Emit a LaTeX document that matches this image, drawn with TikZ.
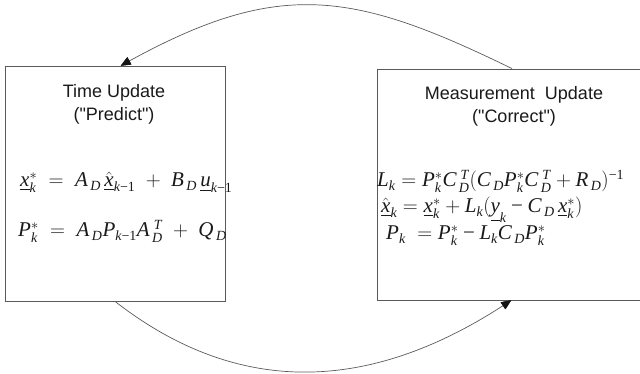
\documentclass[tikz,border=0pt]{standalone}
\usepackage{amsmath}
\usepackage{fontspec}
\setmainfont{Liberation Serif}
\newfontfamily\arialfont{Liberation Sans}
\newfontfamily\tnr{Liberation Serif}
\newcommand{\vi}[1]{\mathchoice{\hbox{\tnr\itshape\fontsize{21}{23}\selectfont #1}}{\hbox{\tnr\itshape\fontsize{21}{23}\selectfont #1}}{\hbox{\tnr\itshape\fontsize{14}{15}\selectfont #1}}{\hbox{\tnr\itshape\fontsize{11}{12}\selectfont #1}}}
\newcommand{\vr}[1]{\mathchoice{\hbox{\tnr\fontsize{21}{23}\selectfont #1}}{\hbox{\tnr\fontsize{21}{23}\selectfont #1}}{\hbox{\tnr\fontsize{14}{15}\selectfont #1}}{\hbox{\tnr\fontsize{11}{12}\selectfont #1}}}
\newcommand{\mn}{\mathbin{\vr{−}}}
\newcommand{\km}{\vi{k}\vr{−1}}
\newcommand{\sD}{\,\vi{D}}
\usetikzlibrary{calc}
\definecolor{linegray}{HTML}{5A5A5A}
\definecolor{inkcol}{HTML}{1A1A1A}
\definecolor{tipcol}{HTML}{141414}
\tikzset{
  boxnode/.style={draw=linegray, line width=0.8pt, inner sep=0pt, fill=white},
  titletext/.style={font=\arialfont\fontsize{18}{21}\selectfont, text=inkcol, inner sep=0pt, anchor=base},
  eqtext/.style={font=\fontsize{21}{24}\selectfont, text=inkcol, inner sep=0pt, anchor=base west},
  flowline/.style={draw=linegray, line width=0.7pt},
  tipfill/.style={fill=tipcol, draw=tipcol, line width=0.4pt, line join=round},
  tipcore/.style={draw=tipcol, line width=2.66pt, line join=miter, miter limit=10, line cap=round}
}
\begin{document}
\begin{tikzpicture}[x=1pt,y=1pt]
\useasboundingbox (0,0) rectangle (640,374);
\node[boxnode, minimum width=220pt, minimum height=235pt] (tu) at (115,190.5) {};
\node[boxnode, minimum width=266pt, minimum height=231pt] (mu) at (510,189.5) {};
\node[titletext] (t1) at (114,276) {Time Update};
\node[titletext] (t2) at (114,253) {("Predict")};
\node[titletext] (t3) at (514,274) {Measurement\ \ Update};
\node[titletext] (t4) at (514,251) {("Correct")};
\node[eqtext] (e1) at (20,187) {$\underline{\vi{x}}_{\vi{k}}^{\ast} \;=\; \vi{A}_{\sD}\,\hat{\underline{\vi{x}}}_{\km} \;+\; \vi{B}_{\sD}\,\underline{\vi{u}}_{\km}$};
\node[eqtext] (e2) at (18,137) {$\vi{P}_{\vi{k}}^{\ast} \;=\; \vi{A}_{\sD}\vi{P}_{\km}\vi{A}_{\sD}^{\;\vi{T}} \;+\; \vi{Q}_{\sD}$};
\node[eqtext] (e3) at (377,187) {$\vi{L}_{\vi{k}} = \vi{P}_{\vi{k}}^{\ast}\vi{C}_{\sD}^{\;\vi{T}}(\vi{C}_{\sD}\vi{P}_{\vi{k}}^{\ast}\vi{C}_{\sD}^{\;\vi{T}} + \vi{R}_{\sD})^{\vr{−1}}$};
\node[eqtext] (e4) at (381,161) {$\hat{\underline{\vi{x}}}_{\vi{k}} = \underline{\vi{x}}_{\vi{k}}^{\ast} + \vi{L}_{\vi{k}}(\underline{\vi{y}}_{\vi{k}} \mn \vi{C}_{\sD}\,\underline{\vi{x}}_{\vi{k}}^{\ast})$};
\node[eqtext] (e5) at (386,134) {$\vi{P}_{\vi{k}}\; = \vi{P}_{\vi{k}}^{\ast} \mn \vi{L}_{\vi{k}}\vi{C}_{\sD}\vi{P}_{\vi{k}}^{\ast}$};
\coordinate (tipA) at ([xshift=6pt]tu.north);
\coordinate (tipB) at ([xshift=1pt]mu.south);
\draw[flowline] ([xshift=2pt]mu.north) .. controls (351,384) and (277,396) .. (tipA);
\filldraw[tipfill] (tipA) -- ++(10.2,1.2) -- ++(-3.9,7.0) -- cycle;
\draw[tipcore] ($(tipA)+(2.98,1.68)$) -- ++(5.12,0.60) -- ++(-1.96,3.48) -- ($(tipA)+(2.98,1.68)$);
\draw[flowline] (tu.south) .. controls (243,-27) and (377,-16.5) .. (tipB);
\filldraw[tipfill] (tipB) -- ++(-10.1,-2.0) -- ++(4.5,-6.6) -- cycle;
\draw[tipcore] ($(tipB)+(-2.84,-1.92)$) -- ++(-5.05,-1.00) -- ++(2.24,-3.32) -- ($(tipB)+(-2.84,-1.92)$);
\end{tikzpicture}
\end{document}
